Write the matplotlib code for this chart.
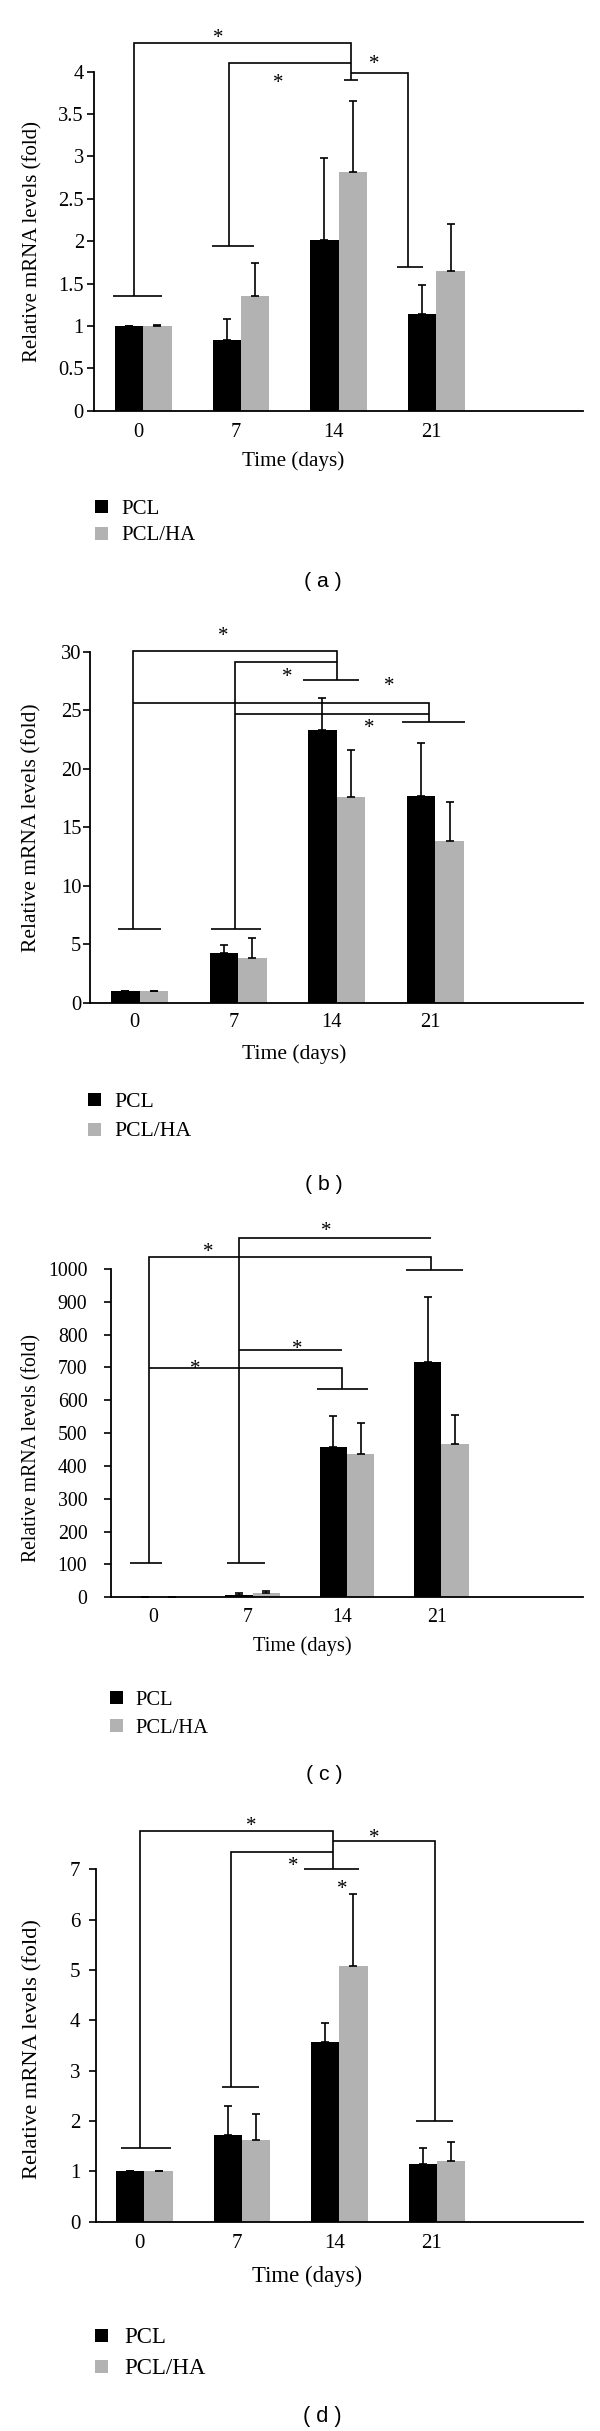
import matplotlib
matplotlib.use('Agg')
import matplotlib.pyplot as plt
import numpy as np
from matplotlib.patches import Rectangle

plt.rcParams['font.family'] = ['Liberation Serif', 'DejaVu Serif']

# ---------------- data ----------------
days = ['0', '7', '14', '21']
series_names = ['PCL', 'PCL/HA']
panel_tags = ['( a )', '( b )', '( c )', '( d )']
ylabel_text = 'Relative mRNA levels (fold)'
xlabel_text = 'Time (days)'

# panel (a)
pcl_a = [1.00, 0.83, 2.02, 1.14]
pcl_a_err = [0.00, 0.25, 0.96, 0.34]
ha_a = [1.00, 1.35, 2.82, 1.65]
ha_a_err = [0.01, 0.39, 0.84, 0.55]
yticks_a = [0, 0.5, 1, 1.5, 2, 2.5, 3, 3.5, 4]
yticklabels_a = ['0', '0.5', '1', '1.5', '2', '2.5', '3', '3.5', '4']

# panel (b)
pcl_b = [1.00, 4.20, 23.30, 17.70]
pcl_b_err = [0.00, 0.75, 2.80, 4.55]
ha_b = [0.95, 3.85, 17.60, 13.85]
ha_b_err = [0.05, 1.65, 4.05, 3.30]
yticks_b = [0, 5, 10, 15, 20, 25, 30]
yticklabels_b = ['0', '5', '10', '15', '20', '25', '30']

# panel (c)
pcl_c = [2, 8, 457, 718]
pcl_c_err = [0, 4, 94, 196]
ha_c = [1, 14, 436, 468]
ha_c_err = [0, 5, 96, 88]
yticks_c = [0, 100, 200, 300, 400, 500, 600, 700, 800, 900, 1000]
yticklabels_c = ['0', '100', '200', '300', '400', '500', '600', '700', '800', '900', '1000']

# panel (d)
pcl_d = [1.01, 1.73, 3.56, 1.14]
pcl_d_err = [0.00, 0.56, 0.39, 0.32]
ha_d = [1.00, 1.62, 5.08, 1.20]
ha_d_err = [0.01, 0.52, 1.43, 0.38]
yticks_d = [0, 1, 2, 3, 4, 5, 6, 7]
yticklabels_d = ['0', '1', '2', '3', '4', '5', '6', '7']

# significance brackets (polylines in data coords) and star positions
brackets_a = [
    [(-0.31, 1.35), (0.19, 1.35)],
    [(-0.095, 1.35), (-0.095, 4.335), (2.13, 4.335), (2.13, 3.90)],
    [(2.056, 3.90), (2.20, 3.90)],
    [(0.705, 1.945), (1.13, 1.945)],
    [(0.875, 1.945), (0.875, 4.10), (2.13, 4.10)],
    [(2.13, 3.99), (2.71, 3.99), (2.71, 1.69)],
    [(2.594, 1.69), (2.862, 1.69)],
]
stars_a = [(0.77, 4.465), (1.377, 3.93), (2.363, 4.155)]

brackets_b = [
    [(-0.215, 6.32), (0.215, 6.32)],
    [(-0.065, 6.32), (-0.065, 30.09), (2.007, 30.09), (2.007, 27.64)],
    [(1.655, 27.64), (2.227, 27.64)],
    [(0.723, 6.32), (1.23, 6.32)],
    [(0.972, 6.32), (0.972, 29.18), (2.007, 29.18)],
    [(-0.065, 25.62), (2.94, 25.62), (2.94, 24.02)],
    [(0.972, 24.73), (2.94, 24.73)],
    [(2.66, 24.02), (3.30, 24.02)],
]
stars_b = [(0.85, 31.84), (1.493, 28.32), (2.53, 27.6), (2.33, 23.99)]

brackets_c = [
    [(-0.298, 103), (0.038, 103)],
    [(-0.097, 103), (-0.097, 1037), (2.894, 1037), (2.894, 997)],
    [(2.62, 997), (3.23, 997)],
    [(-0.097, 699), (1.947, 699), (1.947, 636)],
    [(1.68, 636), (2.224, 636)],
    [(0.73, 103), (1.13, 103)],
    [(0.861, 103), (0.861, 1095), (2.894, 1095)],
    [(0.861, 754), (1.947, 754)],
]
stars_c = [(1.776, 1134), (0.527, 1071), (1.469, 774), (0.388, 714)]

brackets_d = [
    [(-0.245, 1.46), (0.269, 1.46)],
    [(-0.049, 1.46), (-0.049, 7.77), (1.935, 7.77), (1.935, 7.0)],
    [(1.634, 7.0), (2.20, 7.0)],
    [(0.795, 2.68), (1.171, 2.68)],
    [(0.886, 2.68), (0.886, 7.35), (1.935, 7.35)],
    [(2.79, 2.0), (3.17, 2.0)],
    [(2.98, 2.0), (2.98, 7.56), (1.935, 7.56)],
]
stars_d = [(1.10, 7.98), (2.355, 7.74), (1.524, 7.18), (2.03, 6.72)]

# ---------------- layout / style ----------------
BLACK = '#000000'
GRAY = '#b2b2b2'
W, H = 600, 2431
fig = plt.figure(figsize=(W / 100, H / 100), dpi=100)


def fx(px):
    return px / W


def fy(py):
    return 1 - py / H


def draw_panel(spec, pcl, pcl_err, ha, ha_err, yticks, yticklabels,
               brackets, stars, tag):
    l, r, t, b = spec['rect']
    ax = fig.add_axes([fx(l), fy(b), (r - l) / W, (b - t) / H])
    x = np.arange(len(days))
    w = 0.29
    ekw = dict(ecolor=BLACK, elinewidth=1.2, capsize=3, capthick=1.2)
    ax.bar(x - w / 2, pcl, w, color=BLACK, yerr=[np.zeros(len(pcl)), pcl_err],
           error_kw=ekw, zorder=2)
    ax.bar(x + w / 2, ha, w, color=GRAY, yerr=[np.zeros(len(ha)), ha_err],
           error_kw=ekw, zorder=2)
    ax.set_xlim(-0.5, 4.5)
    ax.set_ylim(0, yticks[-1])
    ax.set_yticks(yticks)
    ax.set_yticklabels(yticklabels)
    ax.set_xticks(x - 0.05)
    ax.set_xticklabels(days)
    ax.tick_params(axis='x', length=0, pad=spec['xpad'], labelsize=spec['tick_fs'])
    ax.tick_params(axis='y', direction='out', length=5, width=1.2,
                   pad=spec['ypad'], labelsize=spec['tick_fs'])
    for s in ['top', 'right']:
        ax.spines[s].set_visible(False)
    for s in ['left', 'bottom']:
        ax.spines[s].set_linewidth(1.3)
    ax.set_facecolor('none')

    for line in brackets:
        xs, ys = zip(*line)
        ax.plot(xs, ys, color=BLACK, lw=1.2, clip_on=False,
                solid_capstyle='butt', solid_joinstyle='miter', zorder=3)
    sfs = spec['star_fs']
    for sx, sy in stars:
        ax.annotate('*', xy=(sx, sy), xytext=(0, -0.52 * sfs),
                    textcoords='offset points', ha='center', va='baseline',
                    fontsize=sfs, annotation_clip=False)

    ax.set_ylabel(ylabel_text, fontsize=spec['ylab_fs'], va='center')
    ax.yaxis.set_label_coords(fx(spec['ylab'][0]), fy(spec['ylab'][1]),
                              transform=fig.transFigure)
    ax.set_xlabel(xlabel_text, fontsize=spec['xlab_fs'], va='center')
    ax.xaxis.set_label_coords(fx(spec['xlab'][0]), fy(spec['xlab'][1]),
                              transform=fig.transFigure)

    # legend
    sqx, tx, ys = spec['leg']
    sq = 13
    for name, col, yy in zip(series_names, [BLACK, GRAY], ys):
        fig.add_artist(Rectangle((fx(sqx), fy(yy + sq / 2)), sq / W, sq / H,
                                 transform=fig.transFigure, color=col, lw=0))
        fig.text(fx(tx), fy(yy), name, ha='left', va='center_baseline',
                 fontsize=spec['leg_fs'])
    fig.text(fx(spec['tag'][0]), fy(spec['tag'][1]), tag, ha='center',
             va='center', fontsize=spec['tag_fs'], family='Liberation Sans')
    return ax


spec_a = dict(rect=(94.3, 583, 71.7, 410.7), tick_fs=14.8, xpad=9.0, ypad=2.5,
              ylab=(33, 241), ylab_fs=15, xlab=(293.3, 461), xlab_fs=15.2,
              leg=(95.0, 121.7, (506.5, 533.5)), leg_fs=15,
              tag=(322.7, 581.7), tag_fs=15.3, star_fs=15)
spec_b = dict(rect=(90.4, 583, 652, 1002.5), tick_fs=14.8, xpad=7.5, ypad=1.5,
              ylab=(32, 828), ylab_fs=15.5, xlab=(294, 1054), xlab_fs=15.6,
              leg=(87.7, 114.6, (1099.7, 1129.4)), leg_fs=15.6,
              tag=(324, 1185), tag_fs=15.3, star_fs=15)
spec_c = dict(rect=(111, 583, 1269, 1597.3), tick_fs=14.3, xpad=8, ypad=12,
              ylab=(31.7, 1448), ylab_fs=14.2, xlab=(302.5, 1646), xlab_fs=14.8,
              leg=(110, 135.4, (1697.9, 1725.6)), leg_fs=14.8,
              tag=(324, 1774), tag_fs=15.3, star_fs=15)
spec_d = dict(rect=(95.7, 583, 1869.3, 2221.7), tick_fs=15, xpad=9.0, ypad=6,
              ylab=(33, 2049), ylab_fs=16.2, xlab=(306.7, 2276), xlab_fs=16.4,
              leg=(95.4, 124, (2335, 2366)), leg_fs=16.5,
              tag=(322.7, 2416.7), tag_fs=15.7, star_fs=15)

draw_panel(spec_a, pcl_a, pcl_a_err, ha_a, ha_a_err, yticks_a, yticklabels_a,
           brackets_a, stars_a, panel_tags[0])
draw_panel(spec_b, pcl_b, pcl_b_err, ha_b, ha_b_err, yticks_b, yticklabels_b,
           brackets_b, stars_b, panel_tags[1])
draw_panel(spec_c, pcl_c, pcl_c_err, ha_c, ha_c_err, yticks_c, yticklabels_c,
           brackets_c, stars_c, panel_tags[2])
draw_panel(spec_d, pcl_d, pcl_d_err, ha_d, ha_d_err, yticks_d, yticklabels_d,
           brackets_d, stars_d, panel_tags[3])

fig.savefig('out.png', dpi=100, facecolor='white')
